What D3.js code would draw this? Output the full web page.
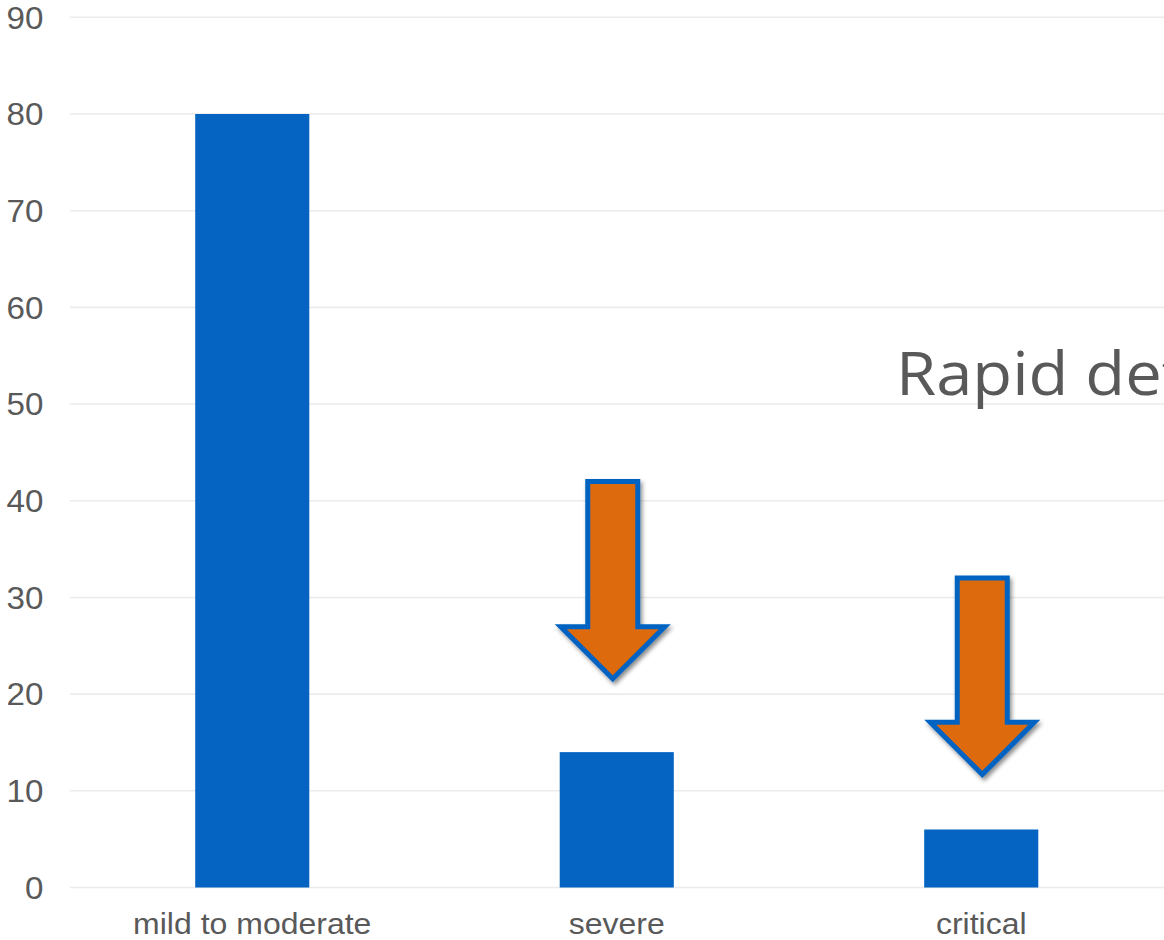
<!DOCTYPE html>
<html>
<head>
<meta charset="utf-8">
<script src="https://cdn.jsdelivr.net/npm/d3@7"></script>
<style>
  html, body { margin: 0; padding: 0; background: #fff; overflow: hidden; }
  svg { display: block; }
</style>
</head>
<body>
<svg id="chart" width="1164" height="940"></svg>
<script>
// ---- data ----
const categories = ["mild to moderate", "severe", "critical"];
const values = [80, 14, 6];
const yTicks = [0, 10, 20, 30, 40, 50, 60, 70, 80, 90];
const arrowCategories = ["severe", "critical"];
const arrowTop = [42, 32];
const arrowTip = [21.6, 11.7];
const annotationText = "Rapid deterioration";
const annotationValue = 50.9;

// ---- layout ----
const W = 1164, H = 940;
const plotLeft = 70, plotRight = 1163.5, plotTop = 17.3, plotBottom = 887.5;
const arrowNudge = [-4, 1];
const svg = d3.select("#chart");

const x = d3.scaleBand().domain(categories).range([plotLeft, plotRight]).padding(0);
const y = d3.scaleLinear().domain([0, 90]).range([plotBottom, plotTop]);
const barW = x.bandwidth() * 0.313;

const defs = svg.append("defs");
const f = defs.append("filter").attr("id", "shadow")
  .attr("x", "-30%").attr("y", "-20%").attr("width", "160%").attr("height", "150%");
f.append("feDropShadow").attr("dx", 2).attr("dy", 3).attr("stdDeviation", 2.2)
  .attr("flood-color", "#000").attr("flood-opacity", 0.45);

// gridlines
svg.append("g").selectAll("line").data(yTicks).join("line")
  .attr("x1", plotLeft).attr("x2", W)
  .attr("y1", d => y(d)).attr("y2", d => y(d))
  .attr("stroke", "#ebebeb").attr("stroke-width", 1.6);

// y axis labels
const yAxis = d3.axisLeft(y).tickValues(yTicks).tickSize(0).tickPadding(0);
const gy = svg.append("g").attr("transform", "translate(43.5,0)").call(yAxis);
gy.select(".domain").remove();
gy.selectAll("text")
  .attr("font-family", "Liberation Sans, Arial, sans-serif")
  .attr("font-size", 31).attr("fill", "#595959").attr("dy", "0.35em")
  .attr("transform", "scale(1.07,1)");

// x axis labels
const xAxis = d3.axisBottom(x).tickSize(0).tickPadding(0);
const gx = svg.append("g").attr("transform", `translate(0,${plotBottom})`).call(xAxis);
gx.select(".domain").remove();
gx.selectAll("text")
  .attr("font-family", "Liberation Sans, Arial, sans-serif")
  .attr("font-size", 29.5).attr("fill", "#595959")
  .attr("dy", null).attr("y", 47)
  .attr("transform", "scale(1.085,1)");

// bars
svg.append("g").selectAll("rect").data(categories).join("rect")
  .attr("x", d => x(d) + x.bandwidth() / 2 - barW / 2)
  .attr("width", barW)
  .attr("y", (d, i) => y(values[i]))
  .attr("height", (d, i) => y(0) - y(values[i]))
  .attr("fill", "#0563c1");

// annotation text
svg.append("text")
  .attr("transform", `translate(896,${y(annotationValue)}) scale(1.085,1)`)
  .attr("font-family", "Open Sans, Noto Sans, sans-serif")
  .attr("font-size", 60).attr("fill", "#595959")
  .text(annotationText);

// arrows
const shaftHalf = 25, headHalf = 52, headLen = 52;
svg.append("g").selectAll("path").data(arrowCategories).join("path")
  .attr("d", (c, i) => {
    const cx = x(c) + x.bandwidth() / 2 + arrowNudge[i];
    const yt = y(arrowTop[i]), yp = y(arrowTip[i]);
    const yw = yp - headLen;
    return `M${cx - shaftHalf},${yt} L${cx + shaftHalf},${yt} L${cx + shaftHalf},${yw} ` +
      `L${cx + headHalf},${yw} L${cx},${yp} L${cx - headHalf},${yw} L${cx - shaftHalf},${yw} Z`;
  })
  .attr("fill", "#dd6a0f")
  .attr("stroke", "#0563c1").attr("stroke-width", 5)
  .attr("stroke-linejoin", "miter")
  .attr("filter", "url(#shadow)");
</script>
</body>
</html>
